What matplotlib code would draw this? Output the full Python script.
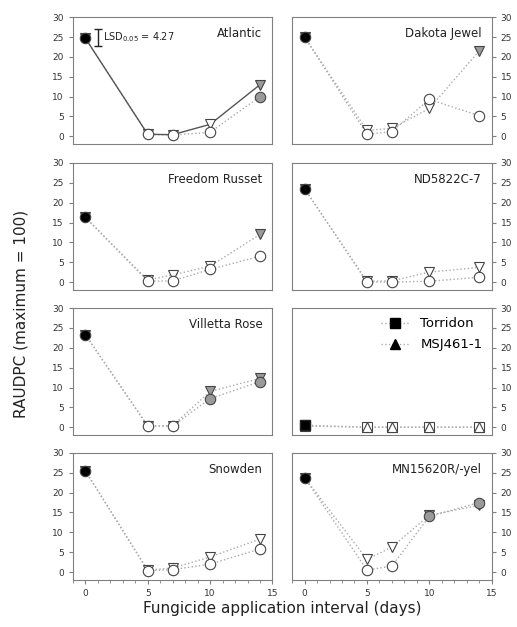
import matplotlib.pyplot as plt
from matplotlib.ticker import MultipleLocator

days = [0, 5, 7, 10, 14]

names = ['Atlantic', 'Dakota Jewel', 'Freedom Russet', 'ND5822C-7',
         'Villetta Rose', 'Torridon', 'Snowden', 'MN15620R/-yel']

# circle series (first treatment) and triangle series (second treatment)
circ = {
    'Atlantic': [24.7, 0.5, 0.3, 1.0, 10.0],
    'Dakota Jewel': [25.0, 0.5, 1.2, 9.3, 5.2],
    'Freedom Russet': [16.3, 0.2, 0.3, 3.2, 6.5],
    'ND5822C-7': [23.5, 0.0, 0.0, 0.2, 1.2],
    'Villetta Rose': [23.3, 0.3, 0.3, 7.2, 11.5],
    'Torridon': [0.5, 0.0, 0.0, 0.0, 0.0],
    'Snowden': [25.5, 0.3, 0.6, 2.0, 5.8],
    'MN15620R/-yel': [23.8, 0.5, 1.5, 14.0, 17.5],
}
tri = {
    'Atlantic': [24.7, 0.5, 0.4, 3.0, 13.0],
    'Dakota Jewel': [25.0, 1.5, 2.0, 7.0, 21.5],
    'Freedom Russet': [16.3, 0.5, 1.8, 4.0, 12.0],
    'ND5822C-7': [23.5, 0.2, 0.3, 2.5, 3.7],
    'Villetta Rose': [23.3, 0.3, 0.4, 9.0, 12.3],
    'Torridon': [0.3, 0.0, 0.0, 0.0, 0.0],
    'Snowden': [25.5, 0.5, 1.0, 3.8, 8.3],
    'MN15620R/-yel': [23.8, 3.2, 6.3, 14.3, 16.8],
}
# fill: k = black, w = white, g = gray
circ_fill = {
    'Atlantic': 'kwwwg', 'Dakota Jewel': 'kwwww', 'Freedom Russet': 'kwwww',
    'ND5822C-7': 'kwwww', 'Villetta Rose': 'kwwgg', 'Torridon': 'kwwww',
    'Snowden': 'kwwww', 'MN15620R/-yel': 'kwwgg',
}
tri_fill = {
    'Atlantic': 'kwwwg', 'Dakota Jewel': 'kwwwg', 'Freedom Russet': 'kwwwg',
    'ND5822C-7': 'kwwww', 'Villetta Rose': 'kwwgg', 'Torridon': 'kwwww',
    'Snowden': 'kwwww', 'MN15620R/-yel': 'kwwgg',
}
fills = {'k': 'black', 'w': 'white', 'g': '#9a9a9a'}

lefts = [0.141, 0.565]
bottoms = [0.770, 0.5375, 0.306, 0.075]
w, h = 0.386, 0.2026

fig = plt.figure(figsize=(5.17, 6.27), dpi=100)

for i, name in enumerate(names):
    row, col = i // 2, i % 2
    ax = fig.add_axes([lefts[col], bottoms[row], w, h])
    ls = '-' if name == 'Atlantic' else ':'
    lc = '#555555' if name == 'Atlantic' else '#aaaaaa'

    if name == 'Torridon':
        cm, tm = 's', '^'
        cz, tz = 2, 3
    else:
        cm, tm = 'o', 'v'
        cz, tz = 3, 2

    ax.plot(days, circ[name], ls=':', color='#aaaaaa', lw=1, zorder=1)
    ax.plot(days, tri[name], ls=ls, color=lc, lw=1, zorder=1)
    for x, y, f in zip(days, tri[name], tri_fill[name]):
        ax.plot(x, y, marker=tm, ms=7.5, mfc=fills[f], mec='#444444',
                mew=0.8, ls='none', zorder=tz)
    for x, y, f in zip(days, circ[name], circ_fill[name]):
        ax.plot(x, y, marker=cm, ms=7.5, mfc=fills[f], mec='#444444',
                mew=0.8, ls='none', zorder=cz)
    if name == 'Torridon':
        # the black square at day 0 sits on top
        ax.plot(days[0], circ[name][0], marker='s', ms=7.5, mfc='black',
                mec='#222222', ls='none', zorder=4)

    ax.set_xlim(-1, 15)
    ax.set_ylim(-2, 30)
    ax.yaxis.set_major_locator(MultipleLocator(5))
    ax.xaxis.set_major_locator(MultipleLocator(5))
    ax.xaxis.set_minor_locator(MultipleLocator(1))
    for s in ax.spines.values():
        s.set_color('#808080')
    ax.tick_params(labelsize=6.5, colors='#808080', labelcolor='#333333',
                   direction='out', length=3)
    ax.tick_params(which='minor', colors='#808080', length=2)
    if col == 1:
        ax.yaxis.tick_right()
    if row < 3:
        ax.tick_params(axis='x', which='both', bottom=False, labelbottom=False)

    if name == 'Torridon':
        h1, = ax.plot([], [], marker='s', ms=7.5, color='#aaaaaa', ls=':',
                      lw=1, mfc='black', mec='black')
        h2, = ax.plot([], [], marker='^', ms=7.5, color='#aaaaaa', ls=':',
                      lw=1, mfc='black', mec='black')
        ax.legend([h1, h2], ['Torridon', 'MSJ461-1'], loc='upper right',
                  frameon=False, fontsize=9.5, handlelength=2.2,
                  borderaxespad=0.3, labelspacing=0.6)
    else:
        ax.text(0.95, 0.92, name, transform=ax.transAxes, ha='right',
                va='top', fontsize=8.5, color='#222222')

    if name == 'Atlantic':
        ax.errorbar([1.0], [25.0], yerr=[4.27 / 2], color='#222222',
                    capsize=3, lw=1)
        ax.text(1.4, 25.0, 'LSD$_{0.05}$ = 4.27', fontsize=7,
                va='center', color='#222222')

fig.text(0.04, 0.5, 'RAUDPC (maximum = 100)', rotation=90, va='center',
         ha='center', fontsize=11, color='#222222')
fig.text(0.545, 0.03, 'Fungicide application interval (days)', ha='center',
         va='center', fontsize=11, color='#222222')

fig.savefig('out.png', dpi=100)
